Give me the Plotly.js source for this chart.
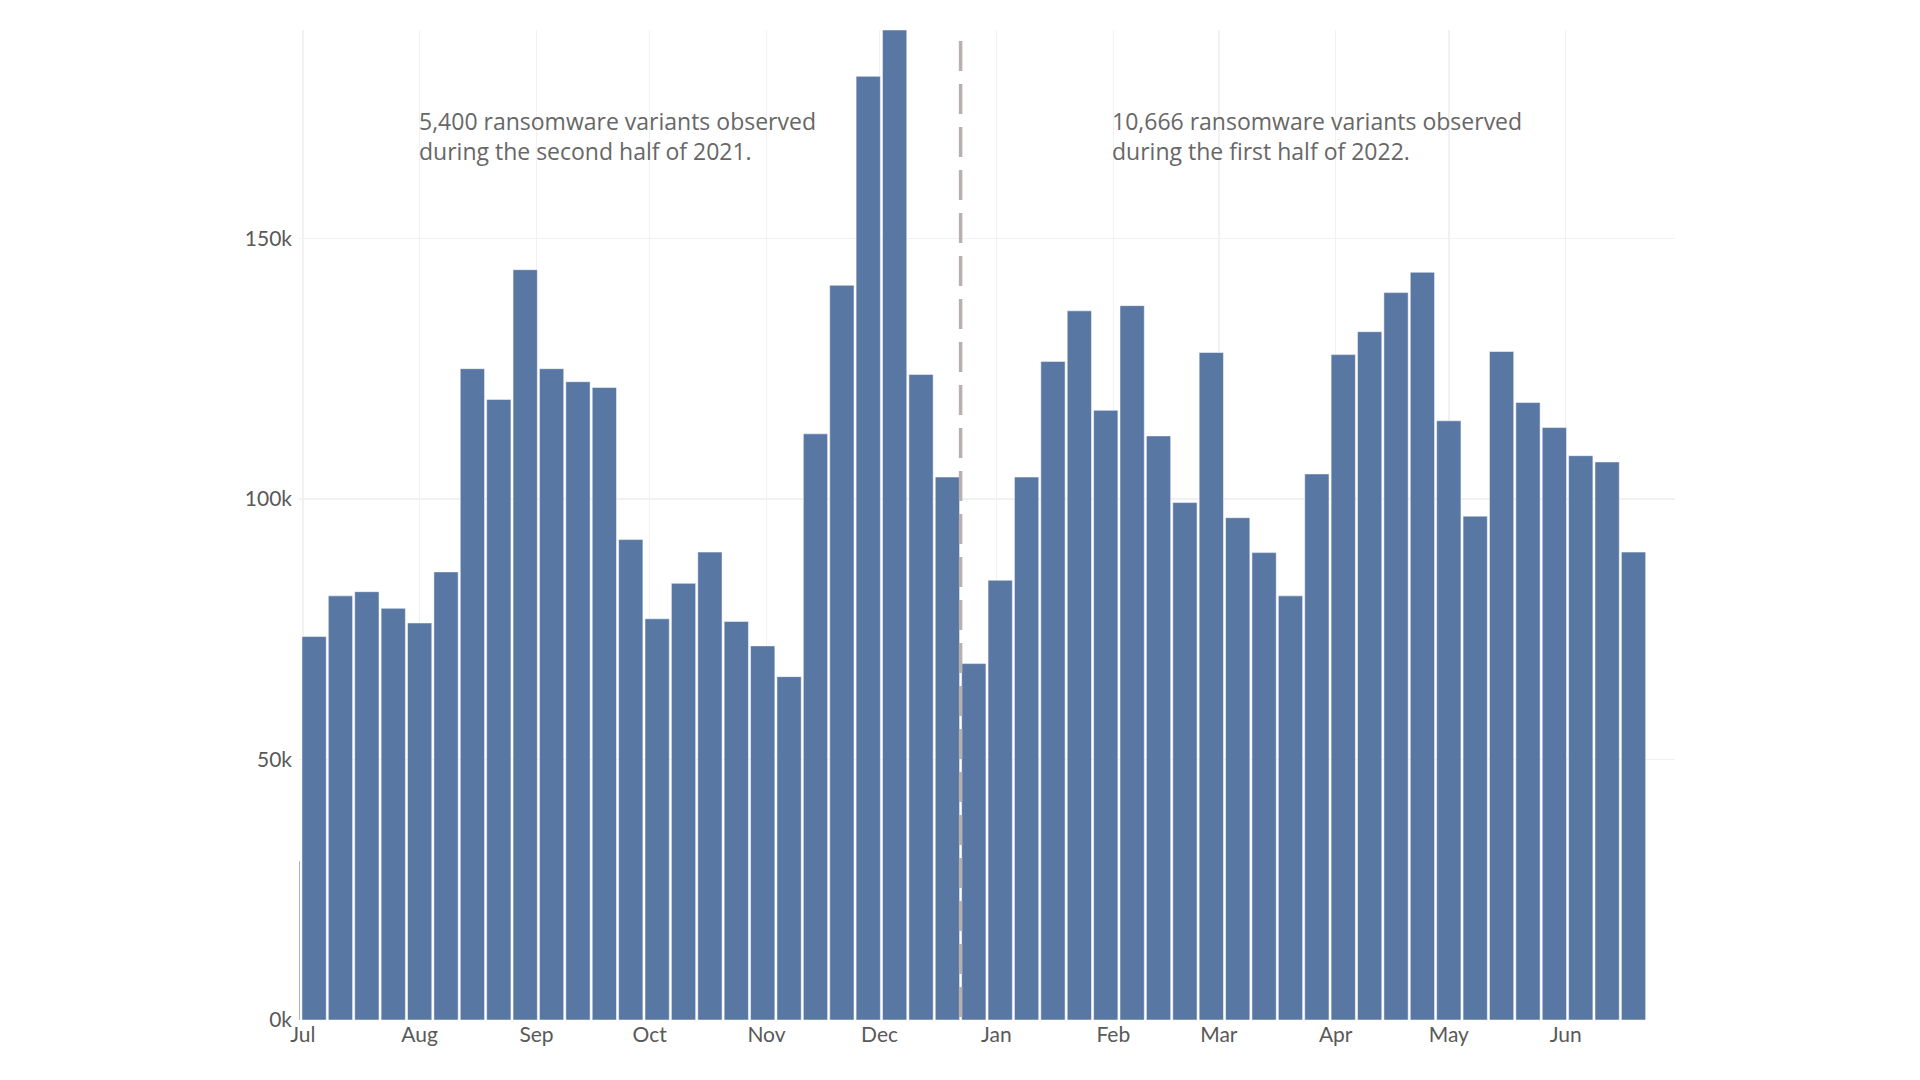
<!DOCTYPE html>
<html>
<head>
<meta charset="utf-8">
<script src="https://cdn.plot.ly/plotly-3.0.1.min.js"></script>
<style>
  html, body { margin: 0; padding: 0; background: #ffffff; }
  #chart { width: 1920px; height: 1080px; }
</style>
</head>
<body>
<div id="chart"></div>
<script>
// Week (Sunday) of observation
const weeks = [
  '2021-06-27','2021-07-04','2021-07-11','2021-07-18','2021-07-25',
  '2021-08-01','2021-08-08','2021-08-15','2021-08-22','2021-08-29',
  '2021-09-05','2021-09-12','2021-09-19','2021-09-26',
  '2021-10-03','2021-10-10','2021-10-17','2021-10-24','2021-10-31',
  '2021-11-07','2021-11-14','2021-11-21','2021-11-28',
  '2021-12-05','2021-12-12','2021-12-19','2021-12-26',
  '2022-01-02','2022-01-09','2022-01-16','2022-01-23','2022-01-30',
  '2022-02-06','2022-02-13','2022-02-20','2022-02-27',
  '2022-03-06','2022-03-13','2022-03-20','2022-03-27',
  '2022-04-03','2022-04-10','2022-04-17','2022-04-24',
  '2022-05-01','2022-05-08','2022-05-15','2022-05-22','2022-05-29',
  '2022-06-05','2022-06-12','2022-06-19'
];

// Weekly counts
const counts = [
  30500, 73600, 81400, 82200, 79000,
  76200, 86000, 125000, 119100, 144000,
  125000, 122500, 121400, 92200,
  77000, 83800, 89800, 76500, 71800,
  65900, 112500, 141000, 181100,
  190000, 123900, 104200, 68400,
  84400, 104200, 126400, 136100, 117000,
  137100, 112100, 99300, 128100,
  96400, 89700, 81400, 104800,
  127700, 132100, 139600, 143500,
  115000, 96700, 128300, 118500, 113700,
  108300, 107100, 89800
];

const yTickVals = [0, 50000, 100000, 150000];
const yTickText = ['0k', '50k', '100k', '150k'];

const noteH2_2021 = ['5,400 ransomware variants observed', 'during the second half of 2021.'];
const noteH1_2022 = ['10,666 ransomware variants observed', 'during the first half of 2022.'];

const FONT = 'Lato, "Noto Sans", sans-serif';
const NOTE_FONT = '"Open Sans", "Noto Sans", sans-serif';
const noteFont = { family: NOTE_FONT, size: 23, color: '#676767' };

function note(lines, xDate) {
  return {
    text: lines.join('<br>'), x: xDate, y: 169600, xref: 'x', yref: 'y',
    xanchor: 'left', yanchor: 'middle', showarrow: false, xshift: -3,
    font: noteFont, align: 'left'
  };
}

const trace = {
  type: 'bar',
  x: weeks,
  y: counts,
  marker: { color: '#5877a3', line: { color: '#ffffff', width: 0.5 } },
  hoverinfo: 'x+y'
};

const layout = {
  width: 1920, height: 1080,
  margin: { l: 299, r: 245, t: 30, b: 60 },
  paper_bgcolor: '#ffffff', plot_bgcolor: '#ffffff',
  bargap: 0.08,
  showlegend: false,
  font: { family: FONT, color: '#595959' },
  xaxis: {
    type: 'date',
    range: ['2021-06-30', '2022-06-30'],
    tick0: '2021-07-01', dtick: 'M1', tickformat: '%b',
    showgrid: true, gridcolor: '#f1f1f1', gridwidth: 1.5,
    zeroline: false, showline: false, ticks: '',
    tickfont: { family: FONT, size: 21, color: '#595959' }
  },
  yaxis: {
    range: [0, 190000],
    tickvals: yTickVals, ticktext: yTickText,
    showgrid: true, gridcolor: '#f1f1f1', gridwidth: 1.5,
    zeroline: false, showline: false, ticks: '',
    ticklabelstandoff: 6,
    tickfont: { family: FONT, size: 21, color: '#595959' }
  },
  shapes: [{
    type: 'line', xref: 'x', yref: 'paper',
    x0: '2021-12-22 12:00', x1: '2021-12-22 12:00', y0: 0.989, y1: 0,
    line: { color: '#b8b0ac', width: 3.5, dash: '30px,13px' }
  }],
  annotations: [note(noteH2_2021, '2021-08-01'), note(noteH1_2022, '2022-02-01')]
};

Plotly.newPlot('chart', [trace], layout, { displayModeBar: false, staticPlot: true });
</script>
</body>
</html>
